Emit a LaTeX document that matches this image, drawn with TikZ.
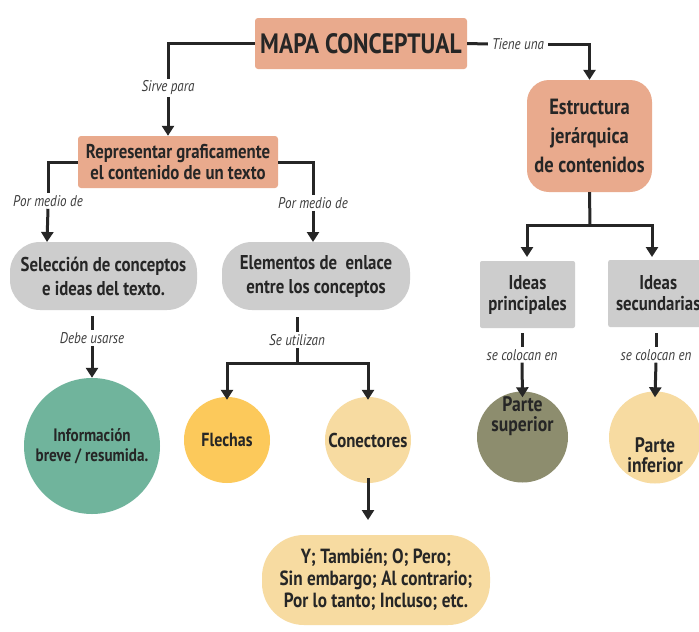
\documentclass[tikz,border=0pt]{standalone}
\usepackage{fontspec}
\setmainfont{PT Sans}[FakeStretch=0.84]
\usetikzlibrary{arrows.meta}
\definecolor{salmon}{HTML}{E9AA8D}
\definecolor{grayb}{HTML}{CDCDCD}
\definecolor{greenc}{HTML}{70B49C}
\definecolor{yellc}{HTML}{FCC95B}
\definecolor{creamc}{HTML}{F7DBA1}
\definecolor{olivec}{HTML}{8D8D6E}
\definecolor{txt}{HTML}{262626}
\definecolor{lbl}{HTML}{3C3C3C}
\tikzset{
  conn/.style={line width=3pt, draw=txt},
  arr/.style={conn, -{Triangle[length=10pt,width=12pt]}},
  lab/.style={font=\fontsize{15.5}{17}\selectfont\itshape, text=lbl, inner sep=2pt, fill=white},
  box/.style={font=\bfseries\fontsize{20}{21}\selectfont, text=txt, align=center, inner sep=0pt},
  circ/.style={circle, font=\bfseries\fontsize{19}{20}\selectfont, text=txt, align=center, inner sep=0pt}
}
\begin{document}
\begin{tikzpicture}[x=1pt,y=-1pt]
\clip (0,0) rectangle (699,632);
\fill[white] (0,0) rectangle (699,632);
% boxes
\node[box, fill=salmon, rounded corners=3pt, minimum width=212pt, minimum height=51pt, font=\bfseries\fontsize{28}{30}\selectfont] (mapa) at (361,43.5) {MAPA CONCEPTUAL};
\node[box, fill=salmon, rounded corners=3pt, minimum width=200pt, minimum height=52pt] (rep) at (178,162) {Representar graficamente\\el contenido de un texto};
\node[box, fill=salmon, rounded corners=22pt, minimum width=125pt, minimum height=112pt, font=\bfseries\fontsize{22}{29}\selectfont] (estr) at (589.5,136) {Estructura\\jerárquica\\de contenidos};
\node[box, fill=grayb, rounded corners=30pt, minimum width=187pt, minimum height=68pt, font=\bfseries\fontsize{20}{24}\selectfont] (sel) at (103.5,276) {Selección de conceptos\\e ideas del texto.};
\node[box, fill=grayb, rounded corners=30pt, minimum width=188pt, minimum height=68pt, font=\bfseries\fontsize{20}{24}\selectfont] (elem) at (316,276) {Elementos de\ \ enlace\\entre los conceptos};
\node[box, fill=grayb, rounded corners=2pt, minimum width=95pt, minimum height=67pt] (ip) at (527.5,294.5) {Ideas\\principales};
\node[box, fill=grayb, rounded corners=2pt, minimum width=100pt, minimum height=67pt, anchor=west] (is) at (608,293.5) {Ideas\\secundarias};
% circles
\node[circ, fill=greenc, minimum size=136pt, font=\bfseries\fontsize{18}{20}\selectfont] (info) at (92,446) {Información\\breve / resumida.};
\node[circ, fill=yellc, minimum size=86pt] (flech) at (227,440) {Flechas};
\node[circ, fill=creamc, minimum size=86pt, font=\bfseries\fontsize{20}{20}\selectfont] (conec) at (368,440) {Conectores};
\node[box, fill=creamc, rounded corners=42pt, minimum width=228pt, minimum height=90pt, font=\bfseries\fontsize{20.5}{22}\selectfont] (ytam) at (376,580) {Y; También; O; Pero;\\Sin embargo; Al contrario;\\Por lo tanto; Incluso; etc.};
\node[circle, fill=olivec, minimum size=91pt] (psup) at (522.5,437) {};
\node[box, text=txt, font=\bfseries\fontsize{21}{20}\selectfont] (psupt) at (522.5,416) {Parte\\superior};
\node[circle, fill=creamc, minimum size=92pt] (pinf) at (655,437.5) {};
\node[box, text=txt, font=\bfseries\fontsize{21}{20}\selectfont] (pinft) at (655,455) {Parte\\inferior};
% labels
\node[lab] (sirve) at (168,88) {Sirve para};
\node[lab, inner xsep=4pt] (tiene) at (518,44) {Tiene una};
\node[lab, fill=none] (pm1) at (48,201) {Por medio de};
\node[lab, fill=none] (pm2) at (313,203) {Por medio de};
\node[lab] (debe) at (92,338) {Debe usarse};
\node[lab] (seut) at (297,340) {Se utilizan};
\node[lab] (sc1) at (522,355) {se colocan en};
\node[lab] (sc2) at (656,355) {se colocan en};
% coordinates
\coordinate (selT) at (47,242);
\coordinate (elemT) at (313,242);
\coordinate (branch1) at (297,363);
\coordinate (branch2) at (590,225);
\coordinate (ytamT) at (368,520);
% connectors
\draw[conn] (mapa.west) -| (sirve.north);
\draw[arr] (sirve.south) -- (rep.north -| sirve.south);
\draw[conn] (mapa.east) -- (tiene.west);
\draw[arr] (tiene.east) -| (estr.north);
\draw[conn] (rep.west) -| (pm1.north);
\draw[arr] (pm1.south) -- (selT);
\draw[conn] (rep.east) -| (pm2.north);
\draw[arr] (pm2.south) -- (elemT);
\draw[conn] (92,316) -- (debe.north);
\draw[arr] (debe.south) -- (info.north);
\draw[conn] (297,317) -- (seut.north);
\draw[conn] (seut.south) -- (branch1);
\draw[arr] (branch1) -| ([yshift=-3pt]flech.north);
\draw[arr] (branch1) -| ([yshift=-3pt]conec.north);
\draw[arr] ([yshift=5pt]conec.south) -- (ytamT);
\draw[conn] (estr.south) -- (branch2);
\draw[arr] (branch2) -| (527,257);
\draw[arr] (branch2) -| (652,257);
\draw[conn] (522,333) -- (sc1.north);
\draw[arr] (sc1.south) -- ([yshift=-6pt]psup.north);
\draw[conn] (656,333) -- (sc2.north);
\draw[arr] (sc2.south) -- ([yshift=-6pt]pinf.north);
\end{tikzpicture}
\end{document}
